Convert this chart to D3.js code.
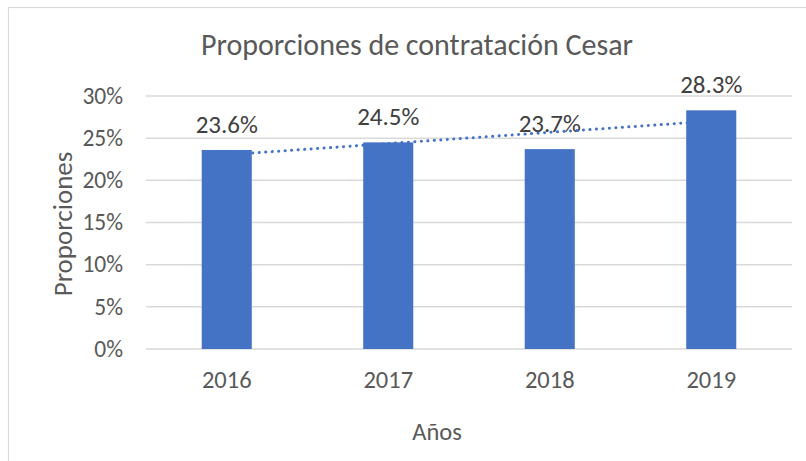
<!DOCTYPE html>
<html lang="es">
<head>
    <meta charset="UTF-8">
    <title>Proporciones de contratación Cesar</title>
    <script src="https://cdn.jsdelivr.net/npm/d3@7"></script>
    <style>
        body { margin: 0; background: #fff; }
        text { font-family: Carlito, Calibri, Lato, sans-serif; }
    </style>
</head>
<body>
<div id="chart"></div>
<script>
    var years = ['2016', '2017', '2018', '2019'];
    var proporciones = [0.236, 0.245, 0.237, 0.283];
    var yTicks = [0, 0.05, 0.10, 0.15, 0.20, 0.25, 0.30];

    var W = 806, H = 461;
    var blue = '#4472C4', grey = '#595959';

    var svg = d3.select('#chart')
            .append('svg')
            .attr('width', W)
            .attr('height', H);

    svg.append('rect').attr('width', W).attr('height', H).attr('fill', '#fff');
    // chart frame (only top and left are visible in the crop)
    svg.append('rect')
            .attr('x', 8.5).attr('y', 7.5)
            .attr('width', W + 20).attr('height', H + 20)
            .attr('fill', 'none')
            .attr('stroke', '#d9d9d9')
            .attr('stroke-width', 1.2);

    var x = d3.scaleBand()
            .domain(years)
            .range([146, 792])
            .paddingInner(0.69)
            .paddingOuter(0.345);

    var y = d3.scaleLinear()
            .domain([0, 0.30])
            .range([349, 96]);

    // gridlines
    svg.append('g').selectAll('line')
            .data(yTicks)
            .enter()
            .append('line')
            .attr('x1', 146).attr('x2', 792)
            .attr('y1', function(d){ return y(d); })
            .attr('y2', function(d){ return y(d); })
            .attr('stroke', '#d9d9d9')
            .attr('stroke-width', 1.5);

    // y tick labels
    svg.append('g').selectAll('text')
            .data(yTicks)
            .enter()
            .append('text')
            .attr('x', 123)
            .attr('y', function(d){ return y(d); })
            .attr('dy', '0.33em')
            .attr('text-anchor', 'end')
            .attr('fill', grey)
            .style('font-size', '23.5px')
            .text(d3.format('.0%'));

    // bars
    svg.append('g').selectAll('rect')
            .data(proporciones)
            .enter()
            .append('rect')
            .attr('x', function(d, i){ return x(years[i]); })
            .attr('y', function(d){ return y(d); })
            .attr('width', x.bandwidth())
            .attr('height', function(d){ return y(0) - y(d); })
            .attr('fill', blue);

    // data labels
    svg.append('g').selectAll('text')
            .data(proporciones)
            .enter()
            .append('text')
            .attr('x', function(d, i){ return x(years[i]) + x.bandwidth() / 2; })
            .attr('y', function(d){ return y(d) - 17; })
            .attr('text-anchor', 'middle')
            .attr('fill', '#404040')
            .style('font-size', '25px')
            .text(d3.format('.1%'));

    // linear trendline (least squares, like excel)
    var n = proporciones.length;
    var mx = d3.mean(proporciones, function(d, i){ return i; });
    var my = d3.mean(proporciones);
    var sxy = d3.sum(proporciones, function(d, i){ return (i - mx) * (d - my); });
    var sxx = d3.sum(proporciones, function(d, i){ return (i - mx) * (i - mx); });
    var slope = sxy / sxx, icpt = my - slope * mx;
    var trend = [0, n - 1].map(function(i){ return [i, icpt + slope * i]; });

    svg.append('path')
            .datum(trend)
            .attr('d', d3.line()
                    .x(function(d){ return x(years[d[0]]) + x.bandwidth() / 2; })
                    .y(function(d){ return y(d[1]); }))
            .attr('fill', 'none')
            .attr('stroke', blue)
            .attr('stroke-width', 3)
            .attr('stroke-linecap', 'round')
            .attr('stroke-dasharray', '0.1 6.4');

    // x tick labels
    svg.append('g').selectAll('text')
            .data(years)
            .enter()
            .append('text')
            .attr('x', function(d){ return x(d) + x.bandwidth() / 2; })
            .attr('y', 388)
            .attr('text-anchor', 'middle')
            .attr('fill', grey)
            .style('font-size', '24.5px')
            .text(function(d){ return d; });

    // titles
    svg.append('text')
            .attr('x', 417).attr('y', 55)
            .attr('text-anchor', 'middle')
            .attr('fill', grey)
            .style('font-size', '30px')
            .style('font-weight', 300)
            .text('Proporciones de contratación Cesar');

    svg.append('text')
            .attr('x', 437).attr('y', 440)
            .attr('text-anchor', 'middle')
            .attr('fill', grey)
            .style('font-size', '24.5px')
            .text('Años');

    svg.append('text')
            .attr('transform', 'translate(72,224) rotate(-90)')
            .attr('text-anchor', 'middle')
            .attr('fill', grey)
            .style('font-size', '27px')
            .text('Proporciones');
</script>
</body>
</html>
